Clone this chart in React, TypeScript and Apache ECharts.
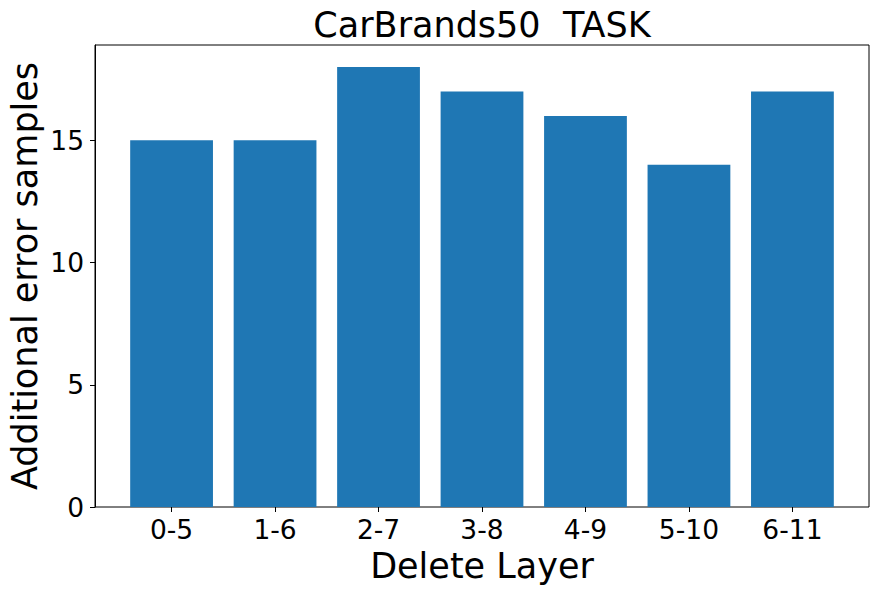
import React, { useEffect, useRef } from "react";
import * as echarts from "echarts";

const categories = ["0-5", "1-6", "2-7", "3-8", "4-9", "5-10", "6-11"];
const values = [15, 15, 18, 17, 16, 14, 17];
const yTicks = [0, 5, 10, 15];
const titleText = "CarBrands50  TASK";
const xLabel = "Delete Layer";
const yLabel = "Additional error samples";

const FONT = "DejaVu Sans";
const PLOT_L = 95;
const PLOT_R = 869;
const PLOT_T = 45;
const PLOT_B = 507;
const YMAX = 18.9;
const TICK_FS = 26.5;
const LABEL_FS = 35;

export default function App() {
  const ref = useRef<HTMLDivElement>(null);
  useEffect(() => {
    if (!ref.current) return;
    const chart = echarts.init(ref.current, undefined, { renderer: "svg" });
    const plotW = PLOT_R - PLOT_L;
    const plotH = PLOT_B - PLOT_T;
    const n = categories.length;
    const span = n - 1 + 0.8 + 2 * 0.05 * (n - 1 + 0.8);
    const unit = plotW / span;
    const innerLeft = PLOT_L + (0.05 * (n - 1 + 0.8) + 0.4 - 0.5) * unit;
    const innerW = n * unit;
    chart.setOption({
      animation: false,
      backgroundColor: "#fff",
      grid: [
        {
          left: PLOT_L,
          top: PLOT_T,
          width: plotW,
          height: plotH,
          show: true,
          borderColor: "#000",
          borderWidth: 1,
          backgroundColor: "transparent",
          containLabel: false,
        },
        {
          left: innerLeft,
          top: PLOT_T,
          width: innerW,
          height: plotH,
          containLabel: false,
        },
      ],
      xAxis: [
        { type: "value", gridIndex: 0, show: false, min: 0, max: 1 },
        {
          type: "category",
          gridIndex: 1,
          data: categories,
          boundaryGap: true,
          axisLine: { show: false },
          axisTick: {
            show: true,
            alignWithLabel: true,
            length: 5,
            lineStyle: { color: "#000", width: 1 },
          },
          axisLabel: {
            color: "#000",
            fontFamily: FONT,
            fontSize: TICK_FS,
            margin: 8.5,
          },
          splitLine: { show: false },
        },
      ],
      yAxis: [
        {
          type: "value",
          gridIndex: 0,
          min: 0,
          max: YMAX,
          axisLine: { show: true, lineStyle: { color: "#000", width: 1 } },
          axisTick: {
            show: true,
            length: 5,
            customValues: yTicks,
            lineStyle: { color: "#000", width: 1 },
          },
          axisLabel: {
            color: "#000",
            fontFamily: FONT,
            fontSize: TICK_FS,
            margin: 11,
            customValues: yTicks,
          },
          splitLine: { show: false },
        },
        {
          type: "value",
          gridIndex: 1,
          min: 0,
          max: YMAX,
          show: false,
          splitLine: { show: false },
        },
      ],
      series: [
        {
          type: "bar",
          xAxisIndex: 1,
          yAxisIndex: 1,
          data: values,
          barWidth: 0.8 * unit,
          itemStyle: { color: "#1f77b4" },
        },
      ],
      graphic: [
        {
          type: "text",
          x: (PLOT_L + PLOT_R) / 2,
          y: 25,
          style: {
            text: titleText,
            fontFamily: FONT,
            fontSize: LABEL_FS,
            fill: "#000",
            align: "center",
            verticalAlign: "middle",
          },
        },
        {
          type: "text",
          x: (PLOT_L + PLOT_R) / 2,
          y: 566,
          style: {
            text: xLabel,
            fontFamily: FONT,
            fontSize: LABEL_FS,
            fill: "#000",
            align: "center",
            verticalAlign: "middle",
          },
        },
        {
          type: "text",
          x: 25,
          y: (PLOT_T + PLOT_B) / 2,
          rotation: Math.PI / 2,
          style: {
            text: yLabel,
            fontFamily: FONT,
            fontSize: LABEL_FS,
            fill: "#000",
            align: "center",
            verticalAlign: "middle",
          },
        },
      ],
    });
    return () => chart.dispose();
  }, []);
  return <div ref={ref} style={{ width: 879, height: 594, position: "absolute", left: 0, top: 0 }} />;
}
